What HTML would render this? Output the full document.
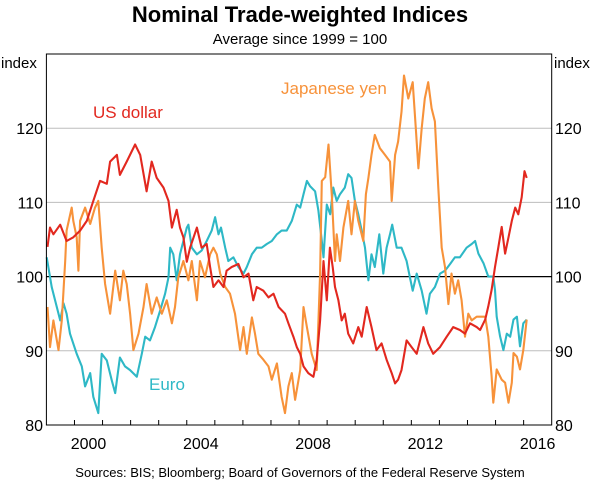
<!DOCTYPE html>
<html><head><meta charset="utf-8">
<style>
body{margin:0;background:#fff;}
svg text{font-family:"Liberation Sans",Arial,sans-serif;}
</style></head>
<body>
<svg id="chart" width="600" height="483" viewBox="0 0 600 483" xmlns="http://www.w3.org/2000/svg">
<text x="300" y="22" text-anchor="middle" font-size="22" font-weight="bold">Nominal Trade-weighted Indices</text>
<text x="300" y="44" text-anchor="middle" font-size="15">Average since 1999 = 100</text>
<text x="1" y="68" font-size="15">index</text>
<text x="554" y="68" font-size="15">index</text>
<g id="grid"></g>
<g id="series"></g>
<g id="axes"></g>
<text x="93" y="118" font-size="17" fill="#e2281f">US dollar</text>
<text x="281" y="94" font-size="17" fill="#f7923a">Japanese yen</text>
<text x="149" y="390" font-size="17" fill="#2eb8c6">Euro</text>
<text x="300" y="477" text-anchor="middle" font-size="13">Sources:   BIS; Bloomberg; Board of Governors of the Federal Reserve System</text>
</svg>
<script>
const yTicks=[80,90,100,110,120];
const xTickYears=[2000,2001,2002,2003,2004,2005,2006,2007,2008,2009,2010,2011,2012,2013,2014,2015,2016];
const xLabels=["2000","2004","2008","2012","2016"];
const usdYears=[1999.04,1999.13,1999.25,1999.49,1999.72,1999.96,2000.2,2000.44,2000.67,2000.91,2001.15,2001.27,2001.51,2001.62,2001.86,2002.16,2002.34,2002.57,2002.75,2002.93,2003.17,2003.35,2003.47,2003.64,2003.76,2003.88,2004.0,2004.12,2004.36,2004.53,2004.71,2004.83,2004.95,2005.13,2005.31,2005.42,2005.6,2005.84,2006.02,2006.2,2006.37,2006.49,2006.73,2006.91,2007.09,2007.27,2007.5,2007.62,2007.8,2007.92,2008.04,2008.16,2008.33,2008.51,2008.63,2008.75,2008.87,2008.99,2009.1,2009.2,2009.28,2009.4,2009.52,2009.63,2009.75,2009.93,2010.11,2010.23,2010.41,2010.58,2010.76,2010.94,2011.12,2011.3,2011.42,2011.53,2011.65,2011.83,2012.01,2012.19,2012.43,2012.6,2012.78,2013.02,2013.26,2013.49,2013.73,2013.91,2014.09,2014.33,2014.45,2014.63,2014.74,2014.86,2014.98,2015.1,2015.22,2015.34,2015.46,2015.58,2015.7,2015.81,2015.93,2016.03,2016.11];
const usdValues=[104,106.6,105.7,107,104.8,105.3,106.2,107.5,110.2,112.9,112.5,115.5,116.4,113.7,115.5,117.8,116.4,111.5,115.5,113.3,112,110.2,106.6,109,106.6,105.3,102,103.9,106.6,103.9,104.4,101.3,98.6,99.5,98.6,100.8,101.3,101.7,99.9,100.4,96.8,98.6,98.1,97.2,97.7,95.9,95,93.7,91.9,90.5,89.6,87.9,87,86.5,88.8,94.1,102.1,96.8,103.9,101.3,98.6,96.8,94.1,95,92.3,91,93.2,91.9,95.9,93.2,90.1,91,88.8,87,85.6,86.1,87.4,91.4,90.5,89.6,93.2,91,89.6,90.5,91.9,93.2,92.8,92.3,93.7,93.2,92.8,94.2,96,98.2,101.3,104,106.7,103.1,105.3,107.5,109.3,108.4,110.7,114.2,113.3];
const yenYears=[1999.04,1999.13,1999.25,1999.43,1999.55,1999.67,1999.72,1999.9,1999.96,2000.08,2000.14,2000.2,2000.38,2000.56,2000.73,2000.85,2000.97,2001.09,2001.27,2001.45,2001.62,2001.74,2001.86,2001.98,2002.1,2002.28,2002.46,2002.57,2002.75,2002.93,2003.11,2003.29,2003.47,2003.58,2003.7,2003.88,2004.06,2004.18,2004.36,2004.47,2004.65,2004.83,2004.95,2005.07,2005.19,2005.37,2005.54,2005.72,2005.9,2006.02,2006.14,2006.32,2006.43,2006.55,2006.73,2006.91,2007.03,2007.21,2007.38,2007.5,2007.62,2007.74,2007.86,2008.04,2008.16,2008.28,2008.45,2008.63,2008.75,2008.81,2008.93,2009.05,2009.17,2009.28,2009.34,2009.46,2009.58,2009.75,2009.87,2009.99,2010.11,2010.29,2010.38,2010.47,2010.58,2010.7,2010.88,2011.06,2011.24,2011.3,2011.42,2011.53,2011.65,2011.74,2011.89,2012.05,2012.16,2012.25,2012.37,2012.48,2012.6,2012.72,2012.84,2012.96,2013.08,2013.2,2013.32,2013.43,2013.55,2013.67,2013.79,2013.91,2014.03,2014.15,2014.33,2014.44,2014.63,2014.74,2014.86,2014.92,2015.04,2015.22,2015.34,2015.46,2015.58,2015.64,2015.76,2015.87,2015.99,2016.11];
const yenValues=[95.9,90.5,94.1,90.1,94.1,102.1,106.2,109.3,107.5,105.3,100.8,107.5,109.3,107.1,109.3,110.2,103.9,99,95,100.8,96.8,100.8,99,95,90.1,92.3,95.9,99,95,97.2,95,96.8,93.7,95.9,99.9,102.1,99.5,102.1,96.8,102.1,99.9,103,103.9,103,100.4,98.6,97.7,95,90.1,93.2,89.6,94.5,92.3,89.6,88.8,87.9,86.1,88.3,83.8,81.6,85.2,87,83.4,87.4,95.9,93.2,89.6,87.4,100.4,112.9,113.4,117.8,110.7,102.1,105.7,102.1,106.6,110.2,105.7,110.2,107.5,104.8,111.1,113.3,116.4,119.1,117.3,116.4,115.5,110.2,116.4,118.2,122.2,127.1,124,126.2,120,114.6,120,124,126.2,122.7,120.9,112,103.9,101.3,96.3,100.4,97.7,99.5,96.8,91.9,95,94.1,94.6,94.6,94.6,91.9,86.6,83,87.5,86.1,85.7,83,85.7,89.7,89.2,87.5,90.1,94.2];
const euroYears=[1999.01,1999.19,1999.37,1999.49,1999.61,1999.72,1999.84,2000.08,2000.26,2000.38,2000.56,2000.67,2000.85,2000.97,2001.15,2001.33,2001.45,2001.62,2001.8,2001.98,2002.22,2002.4,2002.52,2002.69,2002.87,2003.05,2003.23,2003.35,2003.41,2003.52,2003.64,2003.76,2004.0,2004.06,2004.18,2004.36,2004.53,2004.71,2004.89,2005.01,2005.13,2005.22,2005.37,2005.48,2005.66,2005.84,2006.02,2006.14,2006.32,2006.49,2006.67,2006.85,2007.03,2007.21,2007.38,2007.56,2007.74,2007.92,2008.04,2008.16,2008.28,2008.39,2008.57,2008.69,2008.81,2008.87,2008.99,2009.11,2009.22,2009.34,2009.46,2009.63,2009.75,2009.87,2009.99,2010.11,2010.23,2010.35,2010.47,2010.58,2010.7,2010.86,2011.0,2011.12,2011.24,2011.32,2011.48,2011.65,2011.83,2011.95,2012.05,2012.19,2012.37,2012.54,2012.66,2012.84,2013.02,2013.2,2013.38,2013.55,2013.73,2013.97,2014.15,2014.27,2014.39,2014.57,2014.74,2014.92,2014.98,2015.04,2015.16,2015.28,2015.4,2015.52,2015.64,2015.76,2015.87,2015.99,2016.11];
const euroValues=[102.6,98.6,95.9,94.1,96.4,95,92.3,89.6,87.9,85.2,87,83.8,81.6,89.6,88.7,86,84.3,89.1,87.9,87.4,86.5,89.6,91.9,91.4,93.2,95.4,97.7,99.9,103.9,103,99.5,103,106.6,107,103.9,103,103.5,104.8,106.2,108,105.7,106.6,103.9,102.1,102.6,101.3,100.4,101.3,103,103.9,103.9,104.4,104.8,105.7,106.2,106.2,107.5,109.7,109.3,111.1,112.9,112.2,111.5,108.9,104.8,102.6,109.7,108.4,112,110.2,111.1,112,113.8,113.3,110.2,108.4,106.2,103.9,99.5,103,101.3,105.7,100.4,103.9,105.7,107,103.9,103.9,102.1,99.9,98.1,100.4,98.1,95,97.7,98.6,100.4,100.8,101.7,102.6,102.6,103.9,104.4,104.8,103.1,101.8,100,100,98.2,94.6,92,90.1,92.3,91.9,94.2,94.6,90.6,93.7,94.2];

const NS="http://www.w3.org/2000/svg";
const L=46.4,R=551.7,T=54,B=425,tMin=1999,tMax=2017,vMin=80,vMax=130;
function xs(t){return L+(t-tMin)*(R-L)/(tMax-tMin);}
function ys(v){return B-(v-vMin)*(B-T)/(vMax-vMin);}
function mk(tag,attrs,parent){const e=document.createElementNS(NS,tag);for(const k in attrs)e.setAttribute(k,attrs[k]);parent.appendChild(e);return e;}
const grid=document.getElementById('grid'),axes=document.getElementById('axes'),series=document.getElementById('series');
yTicks.forEach(v=>{
  if(v>vMin){
    const ln=mk('line',{x1:L,x2:R,y1:ys(v),y2:ys(v),stroke:v===100?'#000':'#bdbdbd','stroke-width':v===100?1.2:1},grid);
    
    
  }
  const a=mk('text',{x:43,y:ys(v)+6,'text-anchor':'end','font-size':16},axes);a.textContent=String(v);
  
  
  const b=mk('text',{x:555,y:ys(v)+6,'font-size':16},axes);b.textContent=String(v);
  
  
});
xTickYears.forEach(y=>{
  const tk=mk('line',{x1:xs(y),x2:xs(y),y1:B,y2:B-5,stroke:'#000','stroke-width':1},axes);
  
  
});
xLabels.forEach(s=>{
  const t=mk('text',{x:xs(+s+0.5),y:449,'text-anchor':'middle','font-size':16},axes);t.textContent=s;
  
  
});
const frame=mk('rect',{x:L,y:T,width:R-L,height:B-T,fill:'none',stroke:'#000','stroke-width':1},axes);


function draw(years,vals,color,name){
  const d=years.map((t,i)=>(i?'L':'M')+xs(t).toFixed(1)+' '+ys(vals[i]).toFixed(1)).join(' ');
  const p=mk('path',{d:d,fill:'none',stroke:color,'stroke-width':2.1,'stroke-linejoin':'round'},series);
  
  
}
draw(euroYears,euroValues,'#2eb8c6','euro-line');
draw(yenYears,yenValues,'#f7923a','japanese-yen-line');
draw(usdYears,usdValues,'#e2281f','us-dollar-line');
</script>
</body></html>
